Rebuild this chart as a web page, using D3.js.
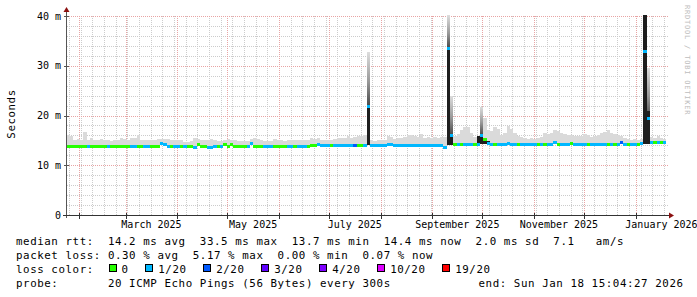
<!DOCTYPE html>
<html lang="en">
<head>
  <meta charset="UTF-8">
  <title>smokeping</title>
  <style>
    body { margin: 0; background: #fff; }
    svg { display: block; font-family: 'DejaVu Sans Mono', monospace; }
    .pre { white-space: pre; }
  </style>
</head>
<body>
  <svg width="697" height="297"></svg>
  <script src="https://cdn.jsdelivr.net/npm/d3@7/dist/d3.min.js"></script>
  <script>
    // one value per 2-day bucket, first bucket starts Jan 24 2025 15:04 UTC
    var median = [
      13.9, 13.9, 13.9, 13.9, 13.9, 13.9, 13.8, 13.9, 13.9, 13.9,
      13.9, 13.9, 13.8, 13.9, 13.9, 13.9, 13.9, 13.9, 13.9, 13.8,
      13.8, 13.9, 13.9, 13.8, 13.8, 13.9, 13.9, 13.9, 14.4, 14.2,
      13.9, 13.8, 13.9, 13.8, 13.8, 13.9, 13.9, 13.9, 13.6, 14.2,
      13.9, 13.9, 13.6, 13.6, 13.9, 13.9, 13.8, 14.2, 13.9, 14.3,
      13.9, 13.9, 13.9, 13.9, 13.8, 14.4, 13.9, 13.9, 13.9, 13.8,
      13.8, 13.9, 13.9, 13.9, 13.9, 13.9, 13.8, 13.8, 13.9, 13.8,
      13.9, 13.9, 13.9, 14.0, 14.0, 14.2, 14.0, 14.0, 14.0, 14.0,
      14.0, 14.0, 14.0, 14.0, 14.0, 14.0, 14.0, 14.0, 14.0, 14.0,
      22.0, 14.0, 14.0, 14.0, 14.0, 14.0, 14.3, 14.3, 14.0, 14.0,
      14.0, 14.0, 14.0, 14.0, 14.0, 14.0, 14.0, 14.0, 14.0, 14.0,
      14.0, 14.0, 14.0, 13.6, 33.6, 16.1, 14.2, 14.25, 14.25, 14.25,
      14.25, 14.25, 14.25, 14.25, 16.1, 15.2, 14.4, 14.25, 14.25, 14.25,
      14.25, 14.25, 14.4, 14.25, 14.25, 14.25, 14.25, 14.25, 14.25, 14.25,
      14.3, 14.3, 14.3, 14.3, 14.3, 14.3, 14.6, 14.3, 14.3, 14.3,
      14.3, 14.5, 14.3, 14.3, 14.3, 14.3, 14.3, 14.3, 14.3, 14.3,
      14.3, 14.3, 14.3, 14.3, 14.3, 14.3, 14.6, 14.3, 14.3, 14.3,
      14.3, 14.3, 14.4, 33.0, 19.4, 14.6, 14.6, 14.6, 14.6, 14.6
    ]
    var smokeTop = [
      16.1, 15.8, 15.1, 15.2, 15.0, 16.6, 15.1, 15.4, 15.1, 15.0,
      15.3, 15.0, 15.0, 14.9, 15.0, 15.1, 15.4, 15.3, 15.0, 15.5,
      15.5, 16.0, 15.1, 15.0, 15.1, 15.0, 15.1, 15.2, 15.3, 15.3,
      15.3, 15.1, 15.0, 15.0, 15.0, 14.7, 14.6, 14.9, 15.4, 15.3,
      15.0, 15.0, 15.1, 15.2, 15.0, 14.9, 14.9, 15.1, 15.2, 15.0,
      15.0, 14.9, 14.8, 14.8, 14.8, 15.2, 15.4, 15.3, 15.0, 14.9,
      14.8, 14.9, 15.2, 15.0, 15.1, 14.9, 15.0, 15.1, 15.0, 15.0,
      15.0, 15.0, 15.0, 15.4, 15.3, 15.4, 15.0, 15.0, 15.0, 15.1,
      15.3, 15.5, 15.4, 15.5, 15.8, 15.5, 15.6, 15.8, 15.9, 16.0,
      32.8, 15.0, 14.9, 15.0, 15.0, 15.1, 15.8, 15.6, 15.3, 15.4,
      15.4, 15.6, 16.1, 16.0, 15.8, 15.6, 16.2, 15.5, 15.6, 15.4,
      15.6, 15.5, 15.7, 15.6, 41.0, 24.0, 15.8, 16.2, 17.0, 17.7,
      17.6, 16.5, 15.6, 15.5, 21.8, 19.5, 17.0, 16.9, 17.6, 17.2,
      16.0, 16.5, 17.8, 17.2, 16.4, 15.8, 15.6, 15.4, 15.3, 15.5,
      15.3, 15.4, 15.6, 16.4, 16.3, 16.4, 17.0, 16.8, 16.4, 16.2,
      16.1, 16.0, 15.8, 15.8, 15.9, 16.2, 16.0, 15.7, 15.8, 16.1,
      16.4, 16.6, 17.1, 16.5, 16.2, 16.0, 15.8, 15.5, 15.2, 15.1,
      15.2, 15.0, 15.3, 41.0, 29.6, 15.6, 15.5, 15.8, 15.4, 15.2
    ]
    // index into lossColors
    var loss = [
      0, 0, 0, 0, 0, 0, 1, 0, 0, 0,
      0, 0, 1, 0, 0, 0, 0, 0, 0, 1,
      1, 0, 0, 1, 1, 0, 0, 0, 1, 1,
      1, 0, 1, 1, 0, 1, 0, 0, 1, 0,
      0, 0, 1, 1, 1, 0, 1, 0, 0, 0,
      0, 0, 0, 0, 1, 1, 0, 0, 0, 1,
      1, 1, 0, 0, 0, 0, 1, 1, 0, 1,
      1, 1, 0, 0, 0, 1, 1, 1, 1, 0,
      1, 1, 1, 1, 1, 1, 2, 0, 0, 1,
      1, 1, 1, 1, 1, 1, 1, 1, 1, 1,
      1, 1, 1, 1, 1, 1, 1, 1, 1, 1,
      1, 1, 1, 1, 1, 1, 0, 1, 0, 1,
      1, 1, 0, 1, 1, 0, 1, 1, 0, 1,
      1, 1, 1, 1, 1, 0, 1, 1, 1, 1,
      1, 0, 1, 0, 1, 1, 1, 0, 1, 1,
      1, 0, 1, 1, 1, 1, 0, 1, 1, 1,
      1, 1, 0, 1, 0, 1, 2, 1, 0, 1,
      1, 0, 1, 1, 1, 1, 0, 1, 0, 1
    ]
    // dense (dark) smoke around the spikes: bucket, low, high
    var darkIdx = [90, 114, 115, 123, 124, 125, 126, 173, 174]
    var darkLo = [14.0, 14.0, 14.0, 14.25, 14.25, 14.25, 14.25, 14.3, 14.3]
    var darkHi = [22.0, 33.6, 16.1, 15.9, 16.1, 15.2, 14.9, 41.0, 21.0]

    var lossLabels = ['0', '1/20', '2/20', '3/20', '4/20', '10/20', '19/20']
    var lossColors = ['#26ff00', '#00b8ff', '#0059ff', '#5e00ff', '#7e00ff', '#dd00ff', '#ff0000']
    var yTicks = [0, 10, 20, 30, 40]
    var monthLabels = ['March 2025', 'May 2025', 'July 2025', 'September 2025', 'November 2025', 'January 2026']
    var legendRows = [
      'median rtt:  14.2 ms avg  33.5 ms max  13.7 ms min  14.4 ms now  2.0 ms sd  7.1   am/s',
      'packet loss: 0.30 % avg  5.17 % max  0.00 % min  0.07 % now',
      'loss color:',
      'probe:       20 ICMP Echo Pings (56 Bytes) every 300s'
    ]
    var endLabel = 'end: Sun Jan 18 15:04:27 2026'

    var svg = d3.select('svg')
    svg.append('rect').attr('width', 697).attr('height', 297).attr('fill', '#fff')

    var end = new Date(Date.UTC(2026, 0, 18, 15, 4, 27))
    var start = new Date(+end - 360 * 864e5)
    var firstBucket = new Date(Date.UTC(2025, 0, 24, 15, 4, 27))
    var bucketMs = 2 * 864e5

    var plotL = 67, plotR = 668, plotT = 16, plotB = 215
    var x = d3.scaleUtc().domain([start, end]).range([65, 665])
    var y = d3.scaleLinear().domain([0, 40]).range([215, 16])
    var yc = function(v) { return Math.max(y(v), 15) }

    var buckets = median.map(function(m, i) {
      var t0 = new Date(+firstBucket + i * bucketMs)
      var t1 = new Date(+t0 + bucketMs)
      return { i: i, x0: x(t0), x1: Math.min(x(t1), 666), median: m, top: smokeTop[i], loss: loss[i] }
    })

    var defs = svg.append('defs')
    var grad = defs.append('linearGradient').attr('id', 'fade')
      .attr('x1', 0).attr('y1', 1).attr('x2', 0).attr('y2', 0)
    grad.append('stop').attr('offset', 0).attr('stop-color', '#4a4a4a')
    grad.append('stop').attr('offset', 0.45).attr('stop-color', '#9a9a9a')
    grad.append('stop').attr('offset', 1).attr('stop-color', '#dedede')

    // grid (under the data)
    var grid = svg.append('g').attr('shape-rendering', 'crispEdges').attr('stroke-dasharray', '1,1')
    var minorY = d3.range(2, 40, 2).filter(function(v) { return v % 10 !== 0 })
    grid.selectAll('line.hmin')
      .data(minorY)
      .enter()
      .append('line')
      .attr('x1', plotL).attr('x2', plotR)
      .attr('y1', function(d) { return Math.round(y(d)) + 0.5 })
      .attr('y2', function(d) { return Math.round(y(d)) + 0.5 })
      .attr('stroke', '#cccccc')

    var weeks = d3.utcSunday.range(start, end).filter(function(d) { return x(d) > plotL + 1 })
    grid.selectAll('line.vmin')
      .data(weeks)
      .enter()
      .append('line')
      .attr('x1', function(d) { return Math.round(x(d)) + 0.5 })
      .attr('x2', function(d) { return Math.round(x(d)) + 0.5 })
      .attr('y1', plotT).attr('y2', plotB)
      .attr('stroke', '#cccccc')

    var months = d3.utcMonth.range(start, end).filter(function(d) { return x(d) > plotL + 1 })
    grid.selectAll('line.vmaj')
      .data(months)
      .enter()
      .append('line')
      .attr('x1', function(d) { return Math.round(x(d)) + 0.5 })
      .attr('x2', function(d) { return Math.round(x(d)) + 0.5 })
      .attr('y1', plotT).attr('y2', plotB)
      .attr('stroke', '#e8a4a4')

    grid.selectAll('line.hmaj')
      .data(yTicks.filter(function(v) { return v > 0 }))
      .enter()
      .append('line')
      .attr('x1', plotL).attr('x2', plotR)
      .attr('y1', function(d) { return Math.round(y(d)) + 0.5 })
      .attr('y2', function(d) { return Math.round(y(d)) + 0.5 })
      .attr('stroke', '#e8a4a4')

    // smoke
    var smoke = svg.append('g').attr('shape-rendering', 'crispEdges')
    smoke.selectAll('rect')
      .data(buckets)
      .enter()
      .append('rect')
      .attr('x', function(d) { return d.x0 })
      .attr('width', function(d) { return d.x1 - d.x0 })
      .attr('y', function(d) { return yc(d.top) })
      .attr('height', function(d) { return y(d.median) - yc(d.top) })
      .attr('fill', function(d) { return d.top - d.median > 5 ? 'url(#fade)' : '#dadada' })

    smoke.selectAll('rect.dark')
      .data(darkIdx)
      .enter()
      .append('rect')
      .attr('class', 'dark')
      .attr('x', function(d) { return buckets[d].x0 })
      .attr('width', function(d) { return buckets[d].x1 - buckets[d].x0 })
      .attr('y', function(d, k) { return yc(darkHi[k]) })
      .attr('height', function(d, k) { return y(darkLo[k]) - yc(darkHi[k]) })
      .attr('fill', '#1e1e1e')

    // median line coloured by loss
    svg.append('g').attr('shape-rendering', 'crispEdges')
      .selectAll('rect')
      .data(buckets)
      .enter()
      .append('rect')
      .attr('x', function(d) { return d.x0 })
      .attr('width', function(d) { return d.x1 - d.x0 })
      .attr('y', function(d) { return Math.round(y(d.median)) - 1.5 })
      .attr('height', 3)
      .attr('fill', function(d) { return lossColors[d.loss] })

    // axes
    var axes = svg.append('g').attr('shape-rendering', 'crispEdges')
    axes.append('line').attr('x1', 66.5).attr('x2', 66.5).attr('y1', 218).attr('y2', 11)
      .attr('stroke', '#555')
    axes.append('line').attr('x1', 63).attr('x2', 669).attr('y1', 215.5).attr('y2', 215.5)
      .attr('stroke', '#333')
    axes.selectAll('line.xt')
      .data(months)
      .enter()
      .append('line')
      .attr('x1', function(d) { return Math.round(x(d)) + 0.5 })
      .attr('x2', function(d) { return Math.round(x(d)) + 0.5 })
      .attr('y1', 213).attr('y2', 219)
      .attr('stroke', '#333')
    axes.selectAll('line.yt')
      .data(yTicks.filter(function(v) { return v > 0 }))
      .enter()
      .append('line')
      .attr('x1', 64).attr('x2', 69)
      .attr('y1', function(d) { return Math.round(y(d)) + 0.5 })
      .attr('y2', function(d) { return Math.round(y(d)) + 0.5 })
      .attr('stroke', '#555')
    svg.append('path').attr('d', 'M63.5,12 L66.5,7 L69.5,12 Z').attr('fill', '#8b1010')
    svg.append('path').attr('d', 'M669,212.5 L674,215.5 L669,218.5 Z').attr('fill', '#8b1010')

    // tick labels
    svg.append('g')
      .selectAll('text')
      .data(yTicks)
      .enter()
      .append('text')
      .attr('x', 61)
      .attr('y', function(d) { return y(d) + 3.5 })
      .attr('text-anchor', 'end')
      .attr('font-size', '10px')
      .text(function(d) { return d === 0 ? '0' : d + ' m' })

    var parseMonth = d3.utcParse('%B %Y')
    svg.append('g')
      .selectAll('text')
      .data(monthLabels)
      .enter()
      .append('text')
      .attr('x', function(d) {
        var m = parseMonth(d)
        return (x(m) + x(d3.utcMonth.offset(m, 1))) / 2
      })
      .attr('y', 227.5)
      .attr('text-anchor', 'middle')
      .attr('font-size', '10px')
      .text(function(d) { return d })

    svg.append('text')
      .attr('transform', 'translate(15,114) rotate(-90)')
      .attr('text-anchor', 'middle')
      .attr('font-size', '10.8px')
      .attr('letter-spacing', '0.55px')
      .text('Seconds')

    svg.append('text')
      .attr('transform', 'translate(684.5,5) rotate(90)')
      .attr('font-size', '7px')
      .attr('letter-spacing', '0.8px')
      .attr('fill', '#bdbdbd')
      .text('RRDTOOL / TOBI OETIKER')

    // legend
    var legend = svg.append('g').attr('font-size', '10.8px').attr('letter-spacing', '0.57px')
    legend.selectAll('text.row')
      .data(legendRows)
      .enter()
      .append('text')
      .attr('class', 'pre')
      .attr('x', 16)
      .attr('y', function(d, i) { return 244.5 + i * 14 })
      .text(function(d) { return d })
    legend.append('text')
      .attr('x', 478.5).attr('y', 286.5)
      .attr('class', 'pre')
      .text(endLabel)

    var charW = 7.07
    var bx = 108.5
    lossLabels.forEach(function(lab, k) {
      legend.append('rect')
        .attr('x', Math.round(bx) + 0.5).attr('y', 264.5)
        .attr('width', 7).attr('height', 7)
        .attr('fill', lossColors[k]).attr('stroke', '#000')
      legend.append('text')
        .attr('x', bx + 13).attr('y', 272.5)
        .text(lab)
      bx += (lab.length + 4.2) * charW
    })
  </script>
</body>
</html>
